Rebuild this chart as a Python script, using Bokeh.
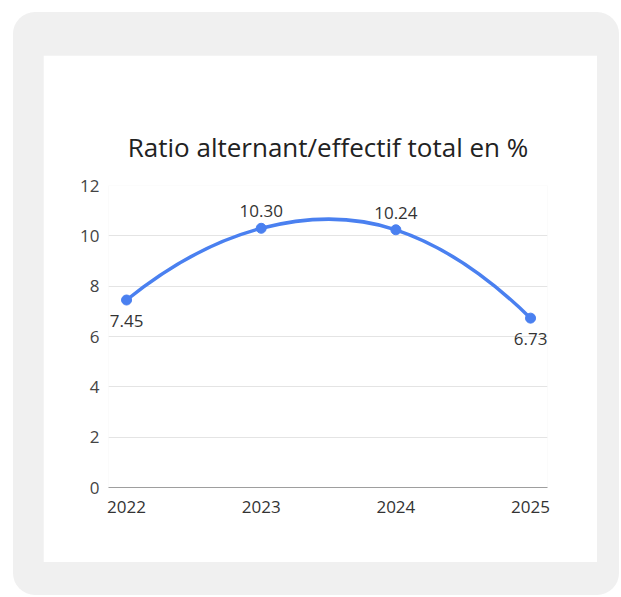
from bokeh.plotting import figure
from bokeh.models import ColumnDataSource, FixedTicker, Range1d, LabelSet
from bokeh.layouts import column
from bokeh.embed import file_html
from bokeh.resources import INLINE
from bokeh.core.properties import value

# ---- data ----
years = ["2022", "2023", "2024", "2025"]
ratios = [7.45, 10.30, 10.24, 6.73]
labels = ["7.45", "10.30", "10.24", "6.73"]
label_side = ["below", "above", "above", "below"]
y_ticks = [0, 2, 4, 6, 8, 10, 12]
title_text = "Ratio alternant/effectif total en %"

FONT = "Open Sans"
BLUE = "#4a80f0"

xs = list(range(len(years)))
n = len(xs)

# tangents for a smooth (cubic Hermite) curve through the data points
m = [0.0] * n
for i in range(1, n - 1):
    m[i] = (ratios[i + 1] - ratios[i - 1]) / 2.0
m[0] = 2 * (ratios[1] - ratios[0]) - m[1]
m[n - 1] = 2 * (ratios[n - 1] - ratios[n - 2]) - m[n - 2]

seg = dict(x0=[], y0=[], x1=[], y1=[], cx0=[], cy0=[], cx1=[], cy1=[])
for i in range(n - 1):
    seg["x0"].append(xs[i]); seg["y0"].append(ratios[i])
    seg["x1"].append(xs[i + 1]); seg["y1"].append(ratios[i + 1])
    seg["cx0"].append(xs[i] + 1 / 3); seg["cy0"].append(ratios[i] + m[i] / 3)
    seg["cx1"].append(xs[i + 1] - 1 / 3); seg["cy1"].append(ratios[i + 1] - m[i + 1] / 3)

p = figure(width=554, height=507, output_backend="svg", toolbar_location=None,
           x_range=Range1d(-0.134, 3.126), y_range=Range1d(0, 12),
           title=title_text)
p.min_border_left = 65
p.min_border_right = 50
p.min_border_top = 130
p.min_border_bottom = 75
p.background_fill_color = "white"
p.border_fill_color = "white"
p.outline_line_color = None

p.title.text_font = FONT
p.title.text_font_size = "26px"
p.title.text_font_style = "normal"
p.title.text_color = "#222222"
p.title.align = "center"
p.title.standoff = 41

p.xgrid.grid_line_color = None
p.ygrid.grid_line_color = "#e4e4e4"
p.ygrid.grid_line_width = 1

p.yaxis.ticker = FixedTicker(ticks=y_ticks)
p.yaxis.axis_line_color = None
p.yaxis.major_tick_line_color = None
p.yaxis.minor_tick_line_color = None
p.yaxis.major_label_standoff = 3
p.yaxis.major_label_text_font = FONT
p.yaxis.major_label_text_font_size = "17px"
p.yaxis.major_label_text_color = "#444444"

p.xaxis.ticker = FixedTicker(ticks=xs)
p.xaxis.major_label_overrides = {i: y for i, y in zip(xs, years)}
p.xaxis.axis_line_color = "#9e9e9e"
p.xaxis.axis_line_width = 1
p.xaxis.major_tick_line_color = None
p.xaxis.minor_tick_line_color = None
p.xaxis.major_label_standoff = 7
p.xaxis.major_label_text_font = FONT
p.xaxis.major_label_text_font_size = "17px"
p.xaxis.major_label_text_color = "#333333"

p.bezier(x0="x0", y0="y0", x1="x1", y1="y1", cx0="cx0", cy0="cy0", cx1="cx1", cy1="cy1",
         source=ColumnDataSource(seg), line_color=BLUE, line_width=3.5)

pts = ColumnDataSource(dict(x=xs, y=ratios, label=labels,
                            dy=[17 if s == "above" else -21 for s in label_side]))
p.scatter("x", "y", source=pts, size=10, fill_color=BLUE, line_color=BLUE)

lab = LabelSet(x="x", y="y", text="label", source=pts, y_offset="dy",
               text_align="center", text_baseline="middle",
               text_font=value(FONT), text_font_size=value("17px"),
               text_color="#333333")
p.add_layout(lab)

p.margin = (43, 22, 33, 30)
card = column(p, width=606, height=583, margin=(12, 0, 0, 13),
              styles={"background-color": "#f0f0f0", "border-radius": "22px"})

open("out.html", "w").write(file_html(card, INLINE))
